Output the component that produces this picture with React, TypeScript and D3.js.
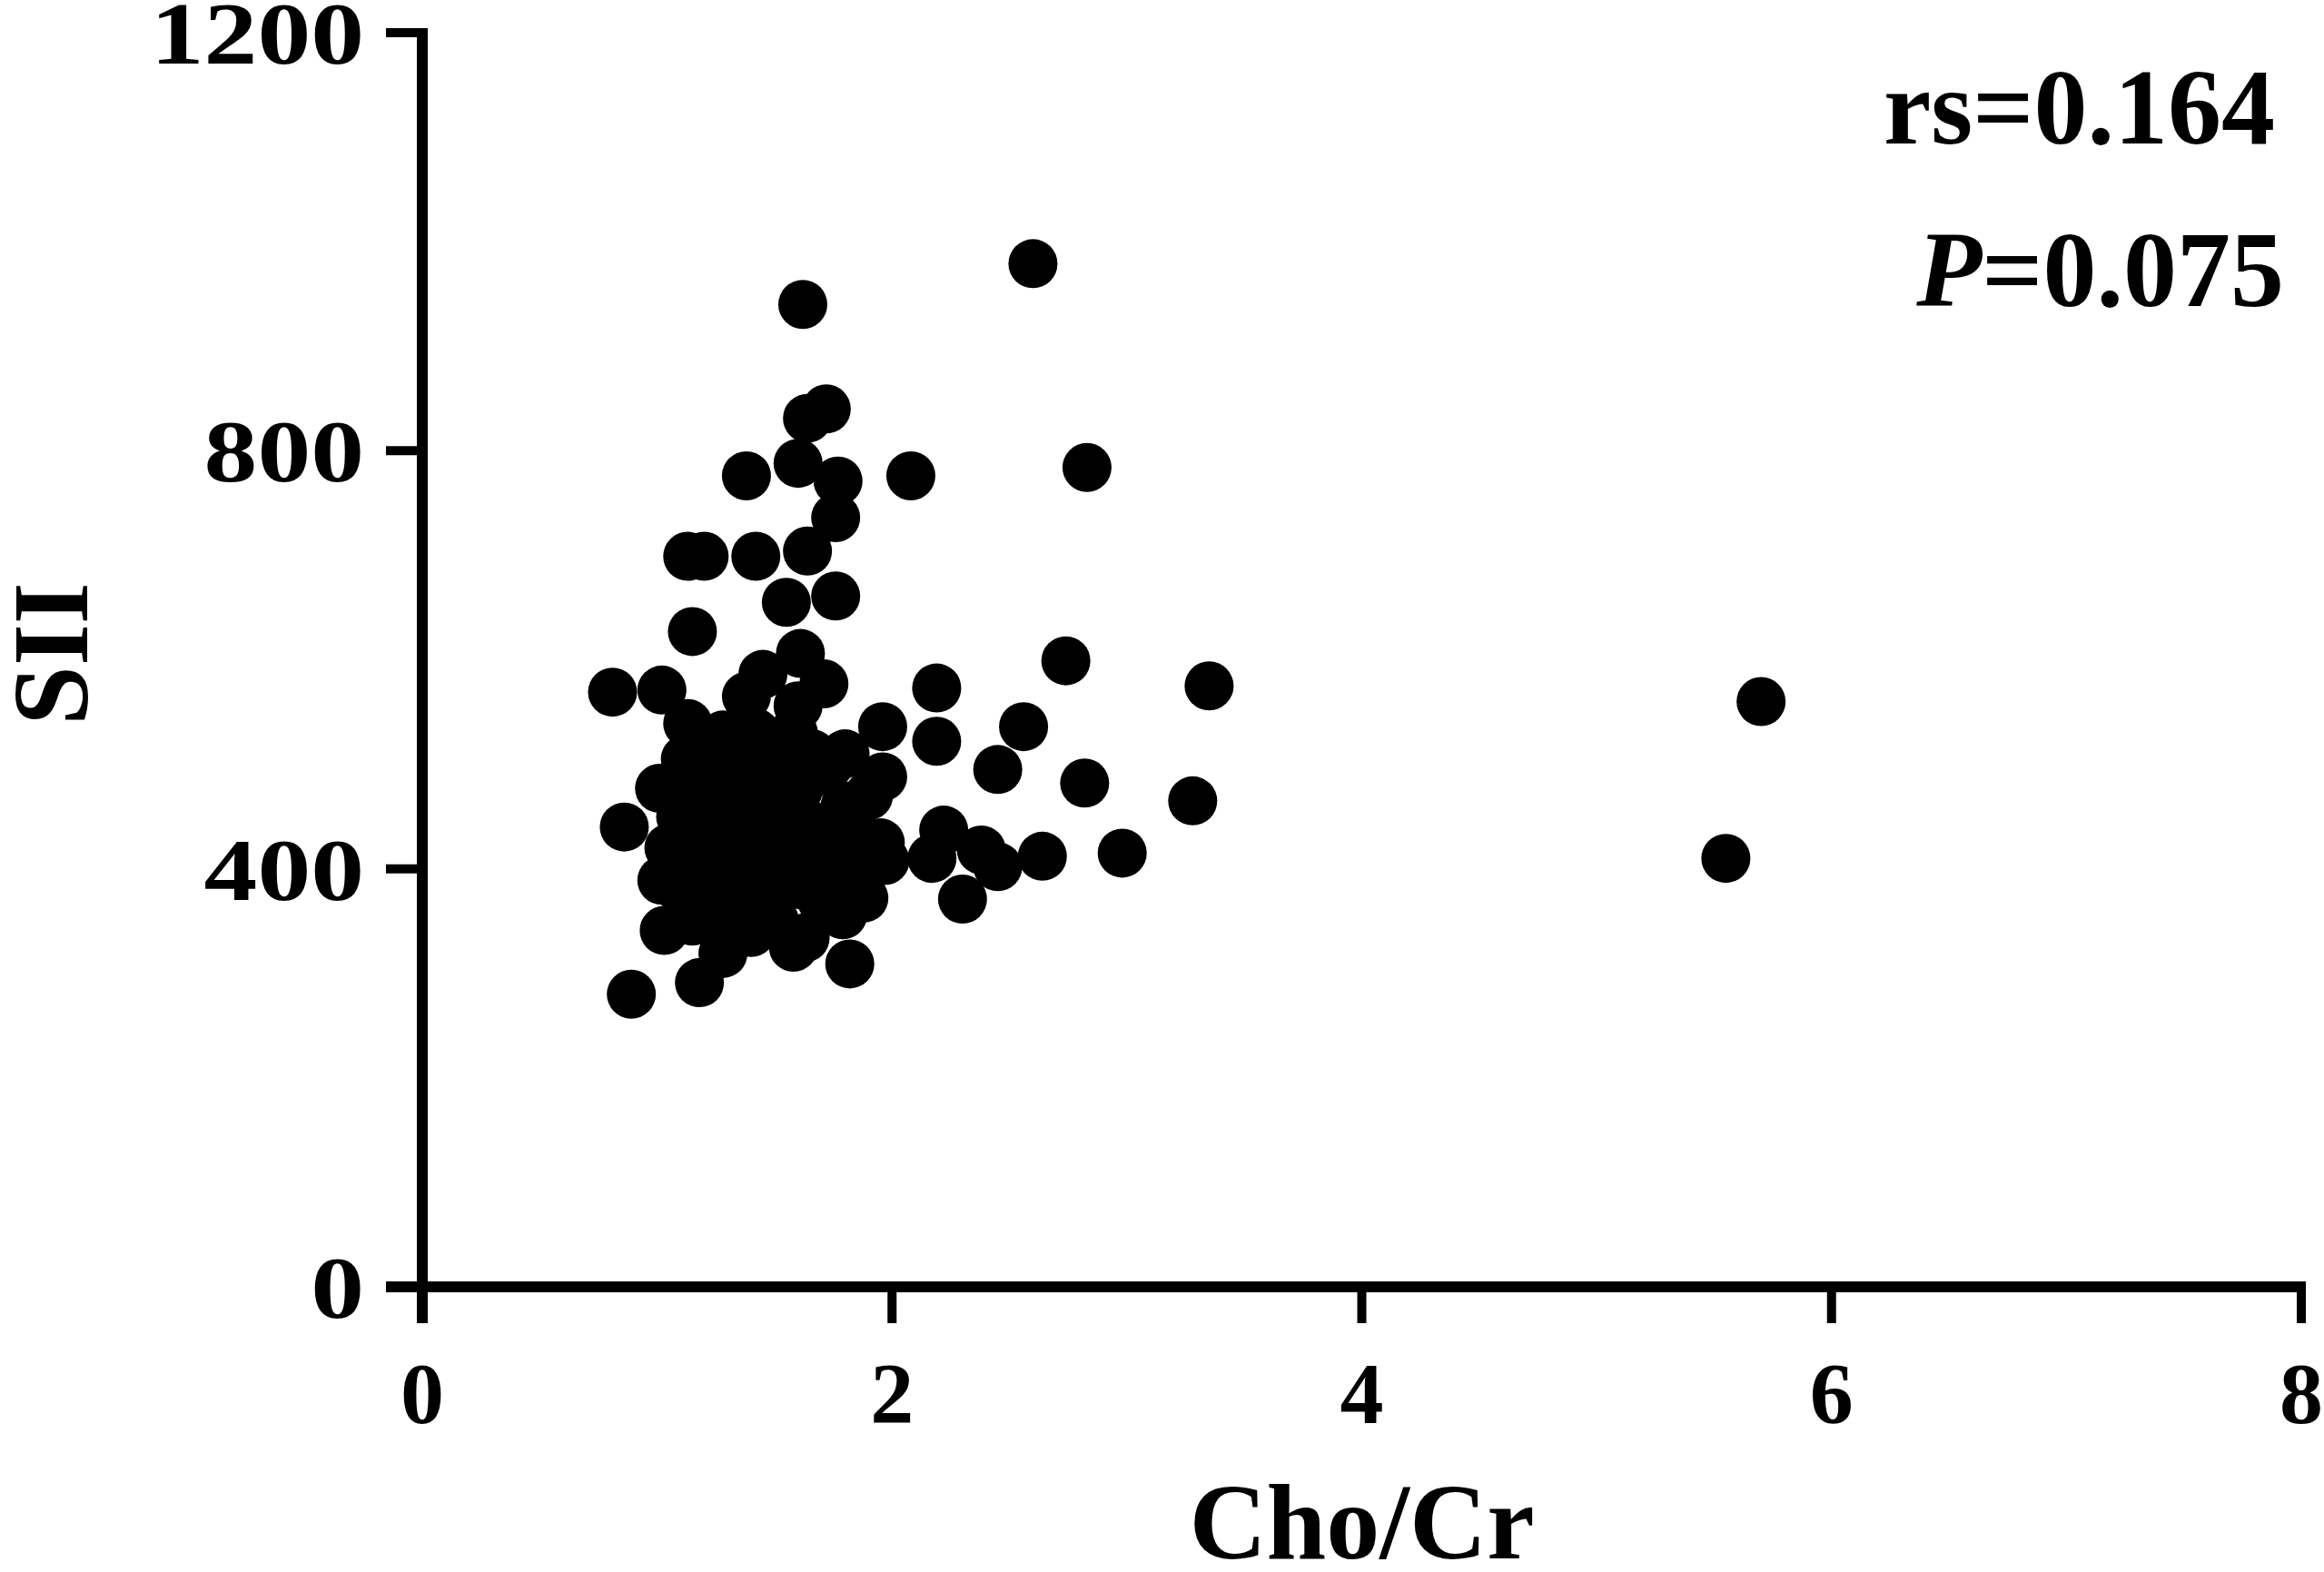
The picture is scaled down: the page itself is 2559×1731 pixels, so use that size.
import React from "react";
import * as d3 from "d3";

const choCr: number[] = [
  1.62, 1.64, 1.72, 1.38, 1.60, 1.77, 1.76, 1.64, 1.13, 1.20,
  1.42, 1.76, 1.55, 1.15, 1.45, 1.61, 1.71, 0.81, 1.02, 2.08,
  2.60, 2.83, 2.74, 3.35, 2.19, 2.19, 1.96, 2.56, 2.45, 2.82,
  3.28, 2.22, 2.17, 2.38, 2.45, 2.30, 2.64, 2.98, 5.55, 5.70,
  1.96, 1.95, 1.97, 1.82, 1.79, 1.82, 1.63, 1.40, 1.28, 1.18,
  0.89, 1.03, 1.02, 0.86, 1.01, 1.13, 1.17, 1.28, 1.47, 1.73,
  1.60, 1.38,
  1.10, 1.20, 1.30, 1.40, 1.50, 1.60, 1.70, 1.80, 1.15, 1.25,
  1.35, 1.45, 1.55, 1.65, 1.75, 1.85, 1.10, 1.20, 1.30, 1.40,
  1.50, 1.60, 1.70, 1.25, 1.35, 1.45, 1.55, 1.65, 1.80, 1.30,
  1.50, 1.12, 1.90, 1.88, 1.58, 1.42, 1.05, 1.15, 1.88, 1.58,
  1.25, 1.45, 1.65, 1.35, 1.75, 1.55, 1.20, 1.40, 1.60, 1.66,
];

const sii: number[] = [
  940, 831, 840, 776, 788, 771, 736, 704, 699, 699,
  699, 661, 655, 627, 586, 606, 577, 569, 571, 776,
  979, 784, 599, 575, 573, 522, 536, 536, 495, 482,
  465, 437, 410, 418, 402, 371, 412, 415, 410, 560,
  488, 425, 408, 309, 356, 391, 334, 339, 319, 291,
  280, 341, 389, 440, 477, 539, 528, 528, 519, 499,
  556, 565,
  450, 470, 455, 440, 460, 450, 440, 460, 420, 400,
  415, 395, 420, 410, 420, 430, 380, 365, 380, 370,
  375, 385, 370, 500, 490, 480, 500, 490, 510, 345,
  350, 505, 470, 400, 530, 530, 420, 350, 372, 325,
  430, 425, 440, 460, 400, 395, 395, 505, 475, 510,
];

const xTicks: number[] = [0, 2, 4, 6, 8];
const yTicks: number[] = [0, 400, 800, 1200];
const xTitle = "Cho/Cr";
const yTitle = "SII";
const rsText = "rs=0.164";
const pValueText = "=0.075";

const W = 2559;
const H = 1731;
const FONT = "Liberation Serif";

export default function App() {
  const x = d3.scaleLinear().domain([0, 8]).range([465, 2534]);
  const y = d3.scaleLinear().domain([0, 1200]).range([1417, 36]);
  const tickLen = 40;
  const axisW = 12;
  const tickW = 10;
  const pts = choCr.map((v, i) => ({ x: v, y: sii[i] }));
  const txt = { fontFamily: FONT, fontWeight: 700 as const };
  const yLabX = x(0) - tickLen - 24;

  return (
    <svg
      width={W}
      height={H}
      viewBox={`0 0 ${W} ${H}`}
      style={{ position: "absolute", left: 0, top: 0, background: "#fff" }}
    >
      <rect x={0} y={0} width={W} height={H} fill="#fff" />
      <line x1={x(0)} x2={x(0)} y1={y(1200) - tickW / 2} y2={y(0) + tickLen} stroke="#000" strokeWidth={axisW} />
      <line x1={x(0) - tickLen} x2={x(8) + tickW / 2} y1={y(0)} y2={y(0)} stroke="#000" strokeWidth={axisW} />
      {yTicks.map((t) => (
        <g key={"y" + t}>
          <line x1={x(0) - tickLen} x2={x(0)} y1={y(t)} y2={y(t)} stroke="#000" strokeWidth={tickW} />
          <text
            x={yLabX}
            y={y(t) + 34}
            textAnchor="end"
            style={{ ...txt, fontSize: 98 }}
            transform={`translate(${yLabX}, 0) scale(1.2, 1) translate(${-yLabX}, 0)`}
          >
            {t}
          </text>
        </g>
      ))}
      {xTicks.map((t) => (
        <g key={"x" + t}>
          <line x1={x(t)} x2={x(t)} y1={y(0)} y2={y(0) + tickLen} stroke="#000" strokeWidth={tickW} />
          <text
            x={x(t)}
            y={y(0) + tickLen + 110}
            textAnchor="middle"
            style={{ ...txt, fontSize: 96 }}
          >
            {t}
          </text>
        </g>
      ))}
      <text x={x(4)} y={1716} textAnchor="middle" style={{ ...txt, fontSize: 118 }}>
        {xTitle}
      </text>
      <text
        transform={`translate(96, 720) rotate(-90)`}
        textAnchor="middle"
        style={{ ...txt, fontSize: 118 }}
      >
        {yTitle}
      </text>
      <text x={2505} y={158} textAnchor="end" style={{ ...txt, fontSize: 118 }}>
        {rsText}
      </text>
      <text x={2515} y={337} textAnchor="end" style={{ ...txt, fontSize: 118 }}>
        <tspan style={{ fontStyle: "italic" }}>P</tspan>
        {pValueText}
      </text>
      {pts.map((p, i) => (
        <circle key={i} cx={x(p.x)} cy={y(p.y)} r={27} fill="#000" />
      ))}
    </svg>
  );
}
